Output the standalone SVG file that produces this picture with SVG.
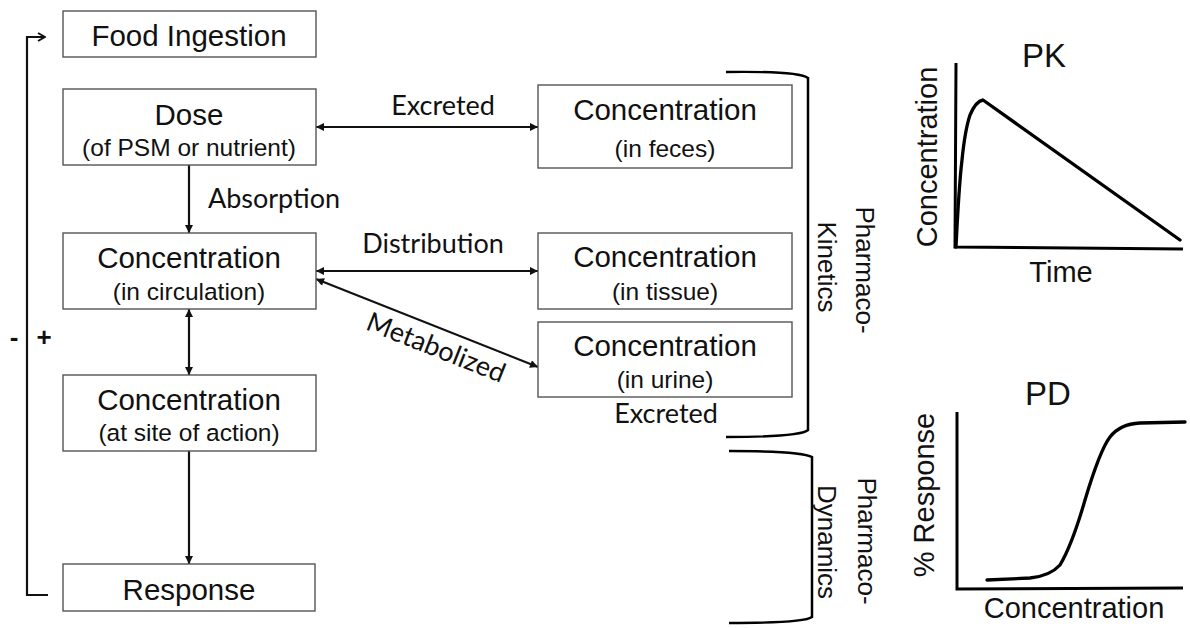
<svg xmlns="http://www.w3.org/2000/svg" width="1190" height="628" viewBox="0 0 1190 628">
<defs>
<style>
.box{fill:#fff;stroke:#555;stroke-width:1.4}
.t{font-family:"Liberation Sans",Arial,sans-serif;fill:#111;text-anchor:middle}
.m{font-size:29.5px}
.s{font-size:24.5px}
.lbl{font-family:Lato,"Open Sans",sans-serif;font-size:27px;fill:#111;text-anchor:middle}
.ln{fill:none;stroke:#111;stroke-width:2.2}
.ax{fill:none;stroke:#000;stroke-width:3}
.cv{fill:none;stroke:#000;stroke-width:3.3;stroke-linejoin:round;stroke-linecap:round}
.br{fill:none;stroke:#000;stroke-width:2.5}
</style>
<marker id="ah" viewBox="0 0 10 10" refX="10" refY="5" markerWidth="9" markerHeight="8" markerUnits="userSpaceOnUse" orient="auto-start-reverse">
<path d="M0,0 L10,5 L0,10 z" fill="#111"/>
</marker>
<marker id="oh" viewBox="0 0 10 10" refX="9" refY="5" markerWidth="10" markerHeight="12" markerUnits="userSpaceOnUse" orient="auto">
<path d="M2,1 L9,5 L2,9" fill="none" stroke="#111" stroke-width="2"/>
</marker>
</defs>

<g id="connectors">
<path class="ln" d="M48,595 L27,595 L27,37 L45,37" stroke-width="2.6" marker-end="url(#oh)"/>
<line class="ln" x1="189" y1="165" x2="189" y2="233" marker-end="url(#ah)"/>
<line class="ln" x1="189" y1="309" x2="189" y2="375" marker-start="url(#ah)" marker-end="url(#ah)"/>
<line class="ln" x1="189" y1="451" x2="189" y2="564" marker-end="url(#ah)"/>
<line class="ln" x1="316" y1="127" x2="538" y2="127" marker-start="url(#ah)" marker-end="url(#ah)"/>
<line class="ln" x1="316" y1="271" x2="538" y2="271" marker-start="url(#ah)" marker-end="url(#ah)"/>
<line class="ln" x1="316" y1="279" x2="538" y2="367" marker-start="url(#ah)" marker-end="url(#ah)"/>
<text class="lbl" x="274" y="208">Absorption</text>
<text class="lbl" x="443" y="115">Excreted</text>
<text class="lbl" x="433" y="253">Distribution</text>
<text class="lbl" transform="translate(443,330) rotate(21.6)" x="0" y="28">Metabolized</text>
<text class="lbl" x="666" y="423">Excreted</text>
<text class="t" x="14" y="346" style="font-size:26px;font-weight:bold">-</text>
<text class="t" x="44" y="346" style="font-size:26px;font-weight:bold">+</text>
</g>

<g id="food">
<rect class="box" x="63" y="11" width="253" height="46"/>
<text class="t m" x="189" y="46">Food Ingestion</text>
</g>
<g id="dose">
<rect class="box" x="63" y="89" width="253" height="76"/>
<text class="t m" x="189" y="125">Dose</text>
<text class="t s" x="189" y="156">(of PSM or nutrient)</text>
</g>
<g id="circulation">
<rect class="box" x="63" y="233" width="253" height="76"/>
<text class="t m" x="189" y="268">Concentration</text>
<text class="t s" x="189" y="300">(in circulation)</text>
</g>
<g id="site">
<rect class="box" x="63" y="375" width="253" height="76"/>
<text class="t m" x="189" y="410">Concentration</text>
<text class="t s" x="189" y="441">(at site of action)</text>
</g>
<g id="response">
<rect class="box" x="63" y="564" width="252" height="47"/>
<text class="t m" x="189" y="600">Response</text>
</g>
<g id="feces">
<rect class="box" x="538" y="85" width="254" height="83"/>
<text class="t m" x="665" y="120">Concentration</text>
<text class="t s" x="665" y="157">(in feces)</text>
</g>
<g id="tissue">
<rect class="box" x="538" y="233" width="254" height="76"/>
<text class="t m" x="665" y="267">Concentration</text>
<text class="t s" x="665" y="300">(in tissue)</text>
</g>
<g id="urine">
<rect class="box" x="538" y="322" width="254" height="75"/>
<text class="t m" x="665" y="356">Concentration</text>
<text class="t s" x="665" y="388">(in urine)</text>
</g>

<g id="pk-bracket">
<path class="br" d="M726,72 Q798,71 808,78 L808,430 Q800,437 726,437"/>
<text class="t" style="font-size:26px" transform="translate(856,270) rotate(90)">Pharmaco-</text>
<text class="t" style="font-size:26px" transform="translate(818,267) rotate(90)">Kinetics</text>
</g>
<g id="pd-bracket">
<path class="br" d="M729,451 Q802,451 812,457 L812,617 Q804,623 729,623"/>
<text class="t" style="font-size:26px" transform="translate(858,541) rotate(90)">Pharmaco-</text>
<text class="t" style="font-size:26px" transform="translate(818,542) rotate(90)">Dynamics</text>
</g>

<g id="pk-chart">
<text class="t" style="font-size:33px" x="1044" y="67">PK</text>
<path class="ax" d="M956,63 L955,247 L1183,249"/>
<path class="cv" d="M956,247 Q959,185 962,160 Q965,130 970,115 Q976,101 983,100 L1180,240"/>
<text class="t" style="font-size:29px" transform="translate(937,157) rotate(-90)">Concentration</text>
<text class="t" style="font-size:29px" x="1061" y="282">Time</text>
</g>
<g id="pd-chart">
<text class="t" style="font-size:33px" x="1048" y="405">PD</text>
<path class="ax" d="M957,412 L957,589 L1183,588"/>
<path class="cv" d="M987,580 L1030,578 Q1050,576 1060,565 Q1072,545 1085,500 Q1100,450 1110,437 Q1120,424 1140,423 L1185,422"/>
<text class="t" style="font-size:29px" transform="translate(934,495) rotate(-90)">% Response</text>
<text class="t" style="font-size:29px" x="1074" y="618">Concentration</text>
</g>
</svg>
